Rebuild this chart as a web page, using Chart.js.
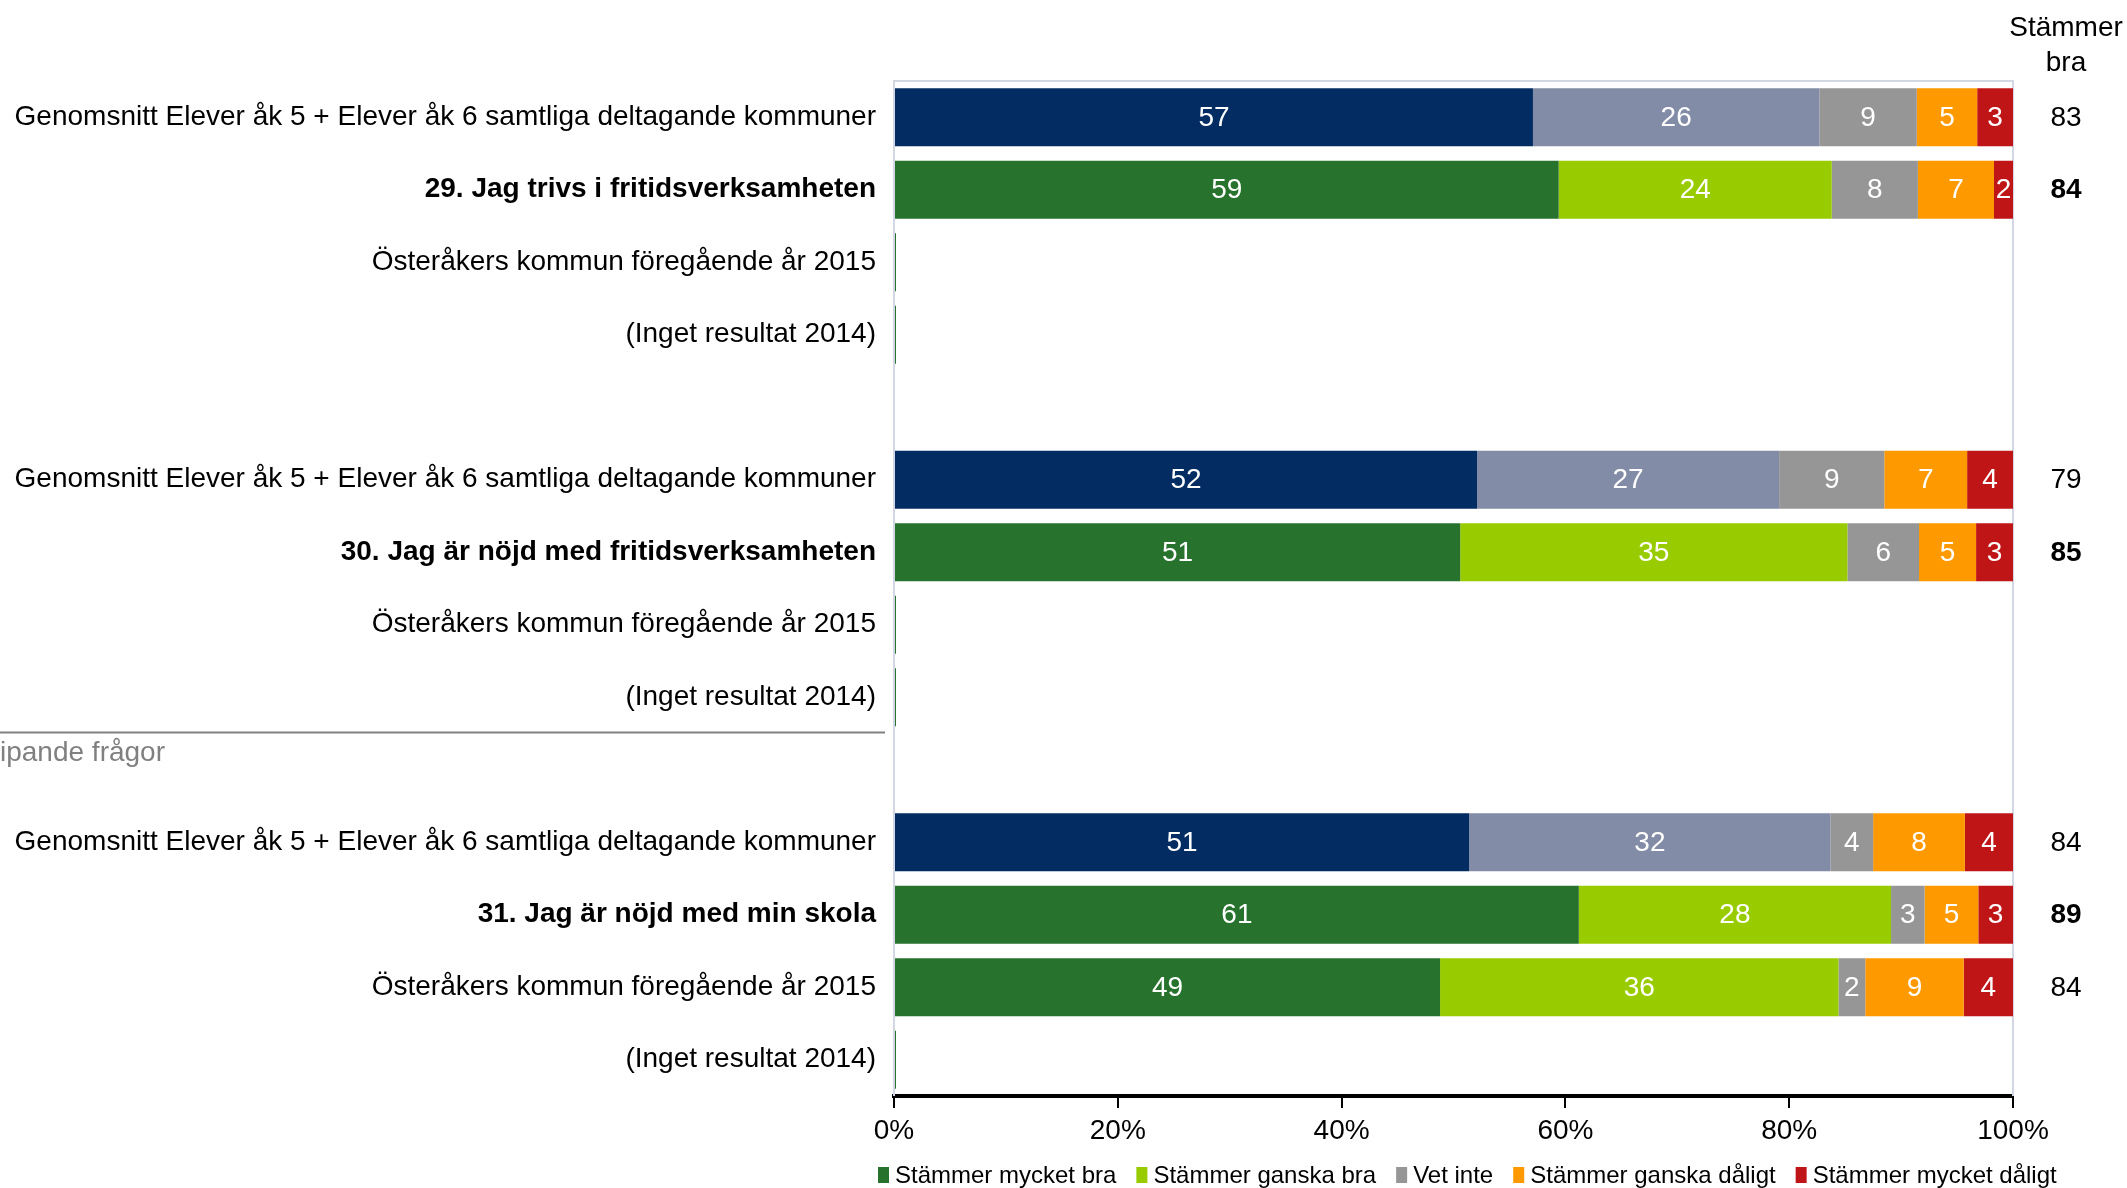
<!DOCTYPE html>
<html lang="sv">
<head>
<meta charset="utf-8">
<title>Fritidsverksamheten och skolan</title>
<script src="https://cdn.jsdelivr.net/npm/chart.js@4/dist/chart.umd.min.js"></script>
<style>
    html, body { margin: 0; padding: 0; background: #fff; }
    #wrap { width: 2127px; height: 1188px; position: relative; }
</style>
</head>
<body>
<div id="wrap"><canvas id="chart"></canvas></div>
<script>
// Rader (uppifrån och ned), tomma strängar = mellanrum mellan frågorna
const categories = [
    "Genomsnitt Elever åk 5 + Elever åk 6 samtliga deltagande kommuner",
    "29. Jag trivs i fritidsverksamheten",
    "Österåkers kommun föregående år 2015",
    "(Inget resultat 2014)",
    "",
    "Genomsnitt Elever åk 5 + Elever åk 6 samtliga deltagande kommuner",
    "30. Jag är nöjd med fritidsverksamheten",
    "Österåkers kommun föregående år 2015",
    "(Inget resultat 2014)",
    "",
    "Genomsnitt Elever åk 5 + Elever åk 6 samtliga deltagande kommuner",
    "31. Jag är nöjd med min skola",
    "Österåkers kommun föregående år 2015",
    "(Inget resultat 2014)"
];

// typ av rad: avg = genomsnitt, q = frågan, prev = föregående år, none = inget resultat, gap = tom rad
const rowKind = ["avg", "q", "prev", "none", "gap", "avg", "q", "prev", "none", "gap", "avg", "q", "prev", "none"];

const seriesNames = ["Stämmer mycket bra", "Stämmer ganska bra", "Vet inte", "Stämmer ganska dåligt", "Stämmer mycket dåligt"];

// andelar i procent
const mycketBra    = [57.1, 59.4, 0, 0, null, 52.1, 50.6, 0, 0, null, 51.4, 61.2, 48.8, 0];
const ganskaBra    = [25.6, 24.4, null, null, null, 27.0, 34.6, null, null, null, 32.3, 27.9, 35.6, null];
const vetInte      = [8.7, 7.7, null, null, null, 9.4, 6.4, null, null, null, 3.8, 3.0, 2.4, null];
const ganskaDaligt = [5.4, 6.8, null, null, null, 7.4, 5.1, null, null, null, 8.2, 4.8, 8.8, null];
const mycketDaligt = [3.2, 1.7, null, null, null, 4.1, 3.3, null, null, null, 4.3, 3.1, 4.4, null];

// kolumnen "Stämmer bra" till höger
const stammerBra = [83, 84, null, null, null, 79, 85, null, null, null, 84, 89, 84, null];

const xTicks = [0, 20, 40, 60, 80, 100];

const FONT = "'Liberation Sans', Arial, sans-serif";

// färger: första är för genomsnitt-raderna, andra för övriga rader
const colors = [
    ["#032c62", "#27732e"],
    ["#828ca7", "#99cc00"],
    ["#969696", "#969696"],
    ["#ff9900", "#ff9900"],
    ["#c01517", "#c01517"]
];

const allSeries = [mycketBra, ganskaBra, vetInte, ganskaDaligt, mycketDaligt];

const datasets = allSeries.map((values, i) => ({
    label: seriesNames[i],
    data: values,
    backgroundColor: rowKind.map(k => k === "avg" ? colors[i][0] : colors[i][1]),
    legendColor: colors[i][1],
    borderWidth: 0,
    minBarLength: i === 0 ? 2 : 0,
    categoryPercentage: 1,
    barPercentage: 0.8
}));

// siffror inne i staplarna
const barValues = {
    id: "barValues",
    afterDatasetsDraw(chart) {
        const ctx = chart.ctx;
        ctx.save();
        ctx.font = "28px " + FONT;
        ctx.fillStyle = "#fff";
        ctx.textAlign = "center";
        ctx.textBaseline = "middle";
        chart.data.datasets.forEach((ds, di) => {
            const meta = chart.getDatasetMeta(di);
            meta.data.forEach((bar, i) => {
                const v = ds.data[i];
                if (v === null || v <= 0) return;
                ctx.fillText(String(Math.round(v)), (bar.x + bar.base) / 2, bar.y + 1);
            });
        });
        ctx.restore();
    }
};

// ram, "Stämmer bra"-kolumn, avskiljare och förklaring
const extras = {
    id: "extras",
    beforeDatasetsDraw(chart) {
        const { ctx, chartArea: a } = chart;
        ctx.save();
        ctx.strokeStyle = "#d3d7e3";
        ctx.lineWidth = 2;
        ctx.beginPath();
        ctx.moveTo(a.left, a.bottom);
        ctx.lineTo(a.left, a.top);
        ctx.lineTo(a.right, a.top);
        ctx.lineTo(a.right, a.bottom);
        ctx.stroke();
        ctx.restore();
    },
    afterDraw(chart) {
        const { ctx, chartArea: a } = chart;
        const y = chart.scales.y;
        const colX = a.right + 53;
        ctx.save();
        ctx.fillStyle = "#000";
        ctx.textAlign = "center";
        ctx.textBaseline = "middle";
        ctx.font = "28px " + FONT;
        ctx.fillText("Stämmer", colX, 28);
        ctx.fillText("bra", colX, 63);
        stammerBra.forEach((v, i) => {
            if (v === null) return;
            ctx.font = (rowKind[i] === "q" ? "bold " : "") + "28px " + FONT;
            ctx.fillText(String(v), colX, y.getPixelForValue(i) + 1);
        });

        // avskiljare från föregående avsnitt (avklippt text)
        const lineY = (y.getPixelForValue(8) + y.getPixelForValue(9)) / 2 - 1;
        ctx.strokeStyle = "#808080";
        ctx.lineWidth = 2;
        ctx.beginPath();
        ctx.moveTo(0, lineY);
        ctx.lineTo(a.left - 9, lineY);
        ctx.stroke();
        ctx.fillStyle = "#808080";
        ctx.textAlign = "left";
        ctx.font = "28px " + FONT;
        ctx.fillText("ipande frågor", 0, lineY + 21);

        // förklaring
        ctx.font = "24px " + FONT;
        ctx.textBaseline = "middle";
        const boxW = 11, boxH = 16, gap = 6, spacing = 20;
        let x = a.left - 16;
        const ly = 1175;
        chart.data.datasets.forEach(ds => {
            ctx.fillStyle = ds.legendColor;
            ctx.fillRect(x, ly - boxH / 2, boxW, boxH);
            x += boxW + gap;
            ctx.fillStyle = "#000";
            ctx.fillText(ds.label, x, ly + 1);
            x += ctx.measureText(ds.label).width + spacing;
        });
        ctx.restore();
    }
};

new Chart(document.getElementById("chart"), {
    type: "bar",
    data: { labels: categories, datasets: datasets },
    options: {
        indexAxis: "y",
        responsive: true,
        maintainAspectRatio: false,
        animation: false,
        layout: { padding: { left: 0, right: 114, top: 81, bottom: 32 } },
        scales: {
            x: {
                stacked: true,
                min: 0,
                max: 100,
                afterBuildTicks: scale => { scale.ticks = xTicks.map(v => ({ value: v })); },
                afterFit: scale => { scale.height = 60; },
                ticks: {
                    callback: v => v + "%",
                    color: "#000",
                    font: { family: FONT, size: 28 },
                    padding: 6,
                    maxRotation: 0
                },
                grid: {
                    drawOnChartArea: false,
                    drawTicks: true,
                    tickLength: 12,
                    color: "#000",
                    lineWidth: 2
                },
                border: { color: "#000", width: 4 }
            },
            y: {
                stacked: true,
                afterFit: scale => { scale.width = 894; },
                ticks: {
                    autoSkip: false,
                    color: "#000",
                    padding: 18,
                    font: c => ({
                        family: FONT,
                        size: 28,
                        weight: rowKind[c.index] === "q" ? "bold" : "normal"
                    })
                },
                grid: { display: false, drawTicks: false },
                border: { display: false }
            }
        },
        plugins: {
            legend: { display: false },
            tooltip: { enabled: false }
        }
    },
    plugins: [barValues, extras]
});
</script>
</body>
</html>
